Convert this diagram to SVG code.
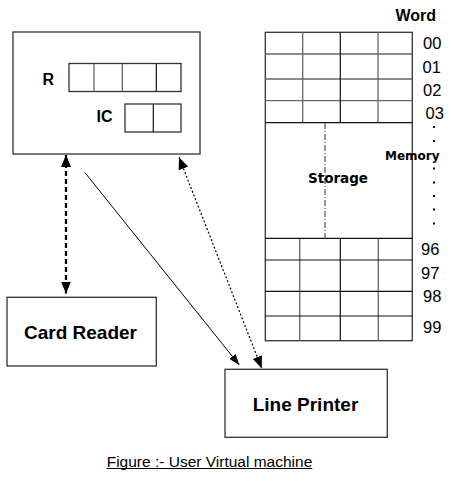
<svg xmlns="http://www.w3.org/2000/svg" width="451" height="481" viewBox="0 0 451 481">
<style>
.box{fill:#fff;stroke:#333;stroke-width:1.3}
.g{stroke:#666;stroke-width:1.3;fill:none}
.k{stroke:#111;stroke-width:1.2;fill:none}
.lbl{font-family:"Liberation Sans",Arial,sans-serif;font-weight:bold;fill:#000}
.num{font-family:"Liberation Sans",Arial,sans-serif;font-size:16.5px;fill:#000}
.dj{font-family:"DejaVu Sans",sans-serif;font-weight:bold;fill:#000}
</style>
<defs>
<marker id="ah" markerUnits="userSpaceOnUse" markerWidth="12" markerHeight="10" refX="12" refY="5" orient="auto-start-reverse"><path d="M0,0 L12,5 L0,10 z" fill="#000"/></marker>
<marker id="as" markerUnits="userSpaceOnUse" markerWidth="11" markerHeight="8" refX="11" refY="4" orient="auto-start-reverse"><path d="M0,0 L11,4 L0,8 z" fill="#000"/></marker>
</defs>
<g id="cpu">
<rect class="box" x="13" y="32" width="187" height="122"/>
<text class="lbl" x="42.5" y="85" font-size="16">R</text>
<rect class="box" x="69" y="63.5" width="112" height="28"/>
<line class="g" x1="94" y1="63.5" x2="94" y2="91.5"/>
<line class="g" x1="122.3" y1="63.5" x2="122.3" y2="91.5"/>
<line class="k" x1="156.3" y1="63.5" x2="156.3" y2="91.5"/>
<text class="lbl" x="96.5" y="121.5" font-size="16">IC</text>
<rect class="box" x="125" y="104" width="56" height="28"/>
<line class="k" x1="153.3" y1="104" x2="153.3" y2="132"/>
</g>
<g id="memory">
<text class="lbl" x="395.5" y="21" font-size="16">Word</text>
<rect class="box" x="265.3" y="32.3" width="147" height="308.4"/>
<g class="g">
<line x1="265.3" y1="54" x2="412.3" y2="54"/>
<line x1="265.3" y1="79" x2="412.3" y2="79"/>
<line x1="265.3" y1="100.7" x2="412.3" y2="100.7"/>
<line x1="302.7" y1="32.3" x2="302.7" y2="122.7"/>
<line x1="378" y1="32.3" x2="378" y2="122.7"/>
<line x1="299.7" y1="238.3" x2="299.7" y2="340.7"/>
<line x1="378.3" y1="238.3" x2="378.3" y2="340.7"/>
</g>
<g class="k">
<line x1="265.3" y1="122.7" x2="412.3" y2="122.7"/>
<line x1="340.3" y1="32.3" x2="340.3" y2="122.7"/>
<line x1="265.3" y1="238.3" x2="412.3" y2="238.3"/>
<line x1="265.3" y1="260" x2="412.3" y2="260"/>
<line x1="265.3" y1="291.3" x2="412.3" y2="291.3"/>
<line x1="265.3" y1="316" x2="412.3" y2="316"/>
<line x1="340.3" y1="238.3" x2="340.3" y2="340.7"/>
</g>
<line x1="325" y1="123" x2="325" y2="238" stroke="#555" stroke-width="1.2" stroke-dasharray="6,2,1,2"/>
<text class="dj" x="338" y="183" font-size="13.5" text-anchor="middle">Storage</text>
<text class="dj" x="385" y="160" font-size="12">Memory</text>
<text class="num" x="423" y="49">00</text>
<text class="num" x="422.5" y="72.5">01</text>
<text class="num" x="423" y="96">02</text>
<text class="num" x="425.5" y="119">03</text>
<g fill="#000">
<rect x="433" y="126" width="2" height="2"/>
<rect x="433" y="140" width="2" height="2"/>
<rect x="433" y="167.5" width="2" height="2"/>
<rect x="433" y="181.5" width="2" height="2"/>
<rect x="433" y="195" width="2" height="2"/>
<rect x="433" y="208.5" width="2" height="2"/>
<rect x="433" y="222.5" width="2" height="2"/>
</g>
<text class="num" x="421" y="255">96</text>
<text class="num" x="421" y="279">97</text>
<text class="num" x="423" y="302">98</text>
<text class="num" x="423" y="332.5">99</text>
</g>
<g id="card-reader">
<rect class="box" x="7" y="297.3" width="149.3" height="68.7"/>
<text class="lbl" x="80.5" y="338.5" font-size="19" text-anchor="middle">Card Reader</text>
</g>
<g id="line-printer">
<rect class="box" x="225" y="369.3" width="162.3" height="68"/>
<text class="lbl" x="305.5" y="411" font-size="19" text-anchor="middle">Line Printer</text>
</g>
<g id="connectors">
<line x1="66" y1="155" x2="66" y2="293.5" stroke="#000" stroke-width="2.2" stroke-dasharray="5,3" marker-start="url(#ah)" marker-end="url(#ah)"/>
<line x1="85" y1="172.7" x2="239.3" y2="365" stroke="#000" stroke-width="1" marker-end="url(#as)"/>
<line x1="179" y1="157.3" x2="261.7" y2="368.3" stroke="#000" stroke-width="1.2" stroke-dasharray="2,2" marker-start="url(#ah)" marker-end="url(#ah)"/>
</g>
<g id="caption">
<text x="209.5" y="467" font-family="Liberation Sans,Arial,sans-serif" font-size="15.5" text-anchor="middle" fill="#000">Figure :- User Virtual machine</text>
<line x1="106.7" y1="468.5" x2="312.3" y2="468.5" stroke="#000" stroke-width="1"/>
</g>
</svg>
